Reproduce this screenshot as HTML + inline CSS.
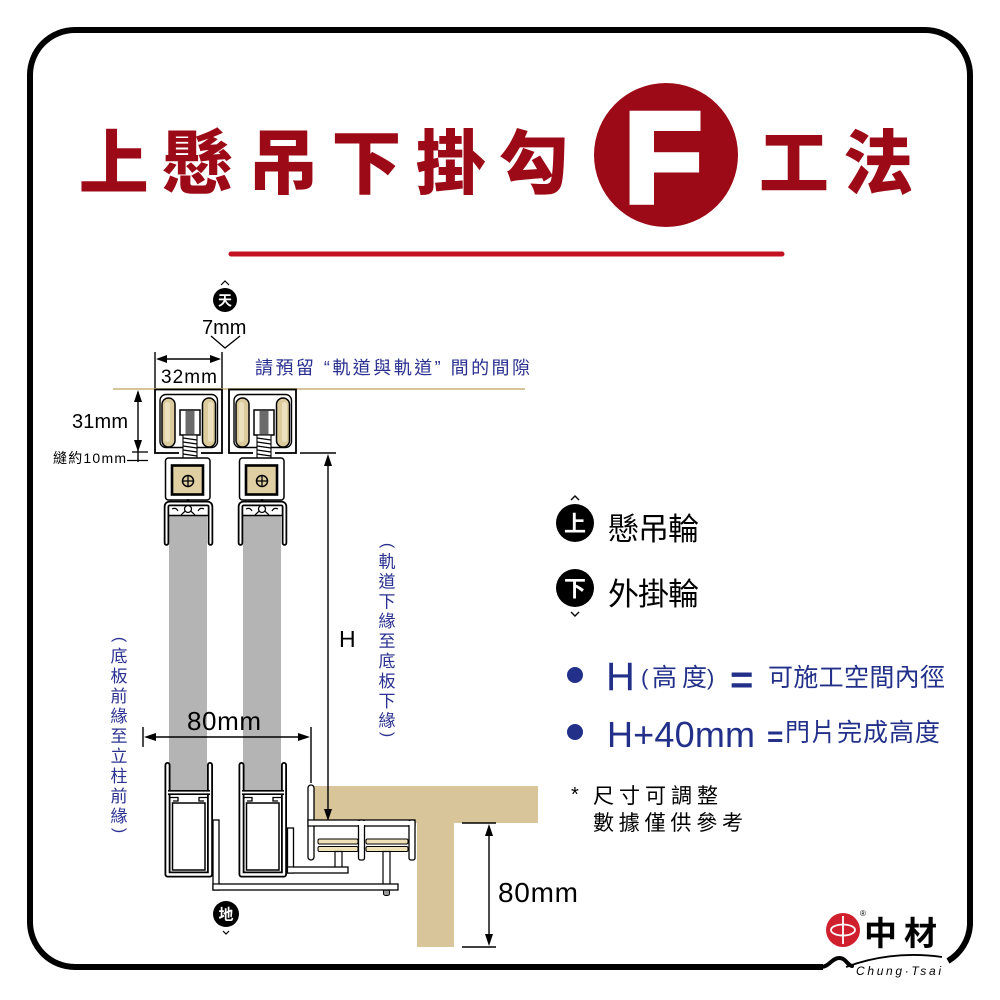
<!DOCTYPE html>
<html><head><meta charset="utf-8">
<style>
html,body{margin:0;padding:0;background:#fff;}
svg{display:block;}
text{font-family:"Liberation Sans","Noto Sans CJK TC",sans-serif;}
</style></head>
<body>
<svg width="1000" height="1000" viewBox="0 0 1000 1000" xmlns="http://www.w3.org/2000/svg" xmlns:xlink="http://www.w3.org/1999/xlink">
<rect width="1000" height="1000" fill="#fff"/>

<!-- frame -->
<path d="M823 967 L75 967 A45 45 0 0 1 30 922 L30 75 A45 45 0 0 1 75 30 L925 30 A45 45 0 0 1 970 75 L970 925 A45 45 0 0 1 948 961" fill="none" stroke="#000" stroke-width="6"/>
<path d="M821 967 C829 967 832 958 839 958 C846 958 847 965 852 966" fill="none" stroke="#000" stroke-width="4" stroke-linecap="round"/>
<path d="M846 967 Q892 950 942 957" fill="none" stroke="#000" stroke-width="1.8"/>

<!-- title -->
<g fill="#9d0a17" font-size="70" font-weight="900" text-anchor="middle">
<text x="113.7" y="188">上</text>
<text x="197.7" y="188">懸</text>
<text x="283.2" y="188">吊</text>
<text x="366.4" y="188">下</text>
<text x="450.7" y="188">掛</text>
<text x="533.8" y="188">勾</text>
<text x="793.9" y="188">工</text>
<text x="878.2" y="188">法</text>
</g>
<circle cx="666" cy="155" r="72" fill="#9d0a17"/>
<text x="624" y="202" font-family="Liberation Sans" font-size="128" font-weight="bold" fill="#fff" stroke="#fff" stroke-width="6" stroke-linejoin="miter">F</text>
<line x1="231" y1="254" x2="782" y2="254" stroke="#c41220" stroke-width="5" stroke-linecap="round"/>

<!-- 天 -->
<polyline points="221,285 225,281 229,285" fill="none" stroke="#000" stroke-width="1.2"/>
<circle cx="225" cy="300" r="12" fill="#000"/>
<text x="225" y="305.5" font-size="14" font-weight="bold" fill="#fff" text-anchor="middle">天</text>
<text x="202" y="334" font-size="20" fill="#000">7mm</text>
<polyline points="211,336 225,348 240,336" fill="none" stroke="#000" stroke-width="1.3"/>

<!-- 32mm -->
<line x1="155" y1="352" x2="155" y2="389" stroke="#000" stroke-width="1.4"/>
<line x1="222" y1="352" x2="222" y2="389" stroke="#000" stroke-width="1.4"/>
<line x1="158" y1="359" x2="219" y2="359" stroke="#000" stroke-width="1.4"/>
<polygon points="156,359 167,355 167,363" fill="#000"/>
<polygon points="221,359 210,355 210,363" fill="#000"/>
<text x="161" y="383" font-size="19" fill="#000" textLength="56">32mm</text>

<text x="255" y="374" font-size="18" fill="#2a3090" textLength="275" lengthAdjust="spacing">請預留 “軌道與軌道” 間的間隙</text>

<!-- ceiling line -->
<line x1="113" y1="389" x2="525" y2="389" stroke="#d6c49a" stroke-width="2"/>

<!-- 31mm -->
<line x1="138" y1="392" x2="138" y2="462" stroke="#000" stroke-width="1.4"/>
<polygon points="138,390 134,402 142,402" fill="#000"/>
<polygon points="138,452 134,440 142,440" fill="#000"/>
<line x1="132" y1="452" x2="148" y2="452" stroke="#000" stroke-width="1.3"/>
<line x1="127" y1="460.5" x2="148" y2="460.5" stroke="#000" stroke-width="1.3"/>
<text x="72" y="428" font-size="20" fill="#000" textLength="56">31mm</text>
<text x="53" y="463" font-size="14" fill="#000" textLength="73">縫約10mm</text>

<!-- column -->
<g id="col">
 <rect x="169" y="516" width="38" height="274" fill="#b4b4b4"/>
 <rect x="155" y="389.5" width="67" height="63.5" fill="#fff" stroke="#000" stroke-width="1.8"/>
 <rect x="160" y="394.5" width="57.5" height="53" rx="6" fill="#fff" stroke="#000" stroke-width="1.4"/>
 <rect x="162" y="398" width="13" height="49" rx="6.5" fill="#dccb9c" stroke="#000" stroke-width="1.5"/>
 <rect x="165" y="402" width="5" height="40" rx="2.5" fill="#ece0bf"/>
 <rect x="202.5" y="398" width="13" height="49" rx="6.5" fill="#dccb9c" stroke="#000" stroke-width="1.5"/>
 <rect x="208" y="402" width="5" height="40" rx="2.5" fill="#ece0bf"/>
 <rect x="180" y="410" width="20" height="25" fill="#fff" stroke="#000" stroke-width="1.5"/>
 <rect x="185.5" y="410.8" width="9" height="23.5" fill="#6b6b6b"/>
 <rect x="179" y="448.5" width="22" height="6" fill="#fff"/>
 <rect x="183" y="435" width="14" height="28" fill="#fff" stroke="#000" stroke-width="1.1"/>
 <path d="M183 438 L197 440 M183 442 L197 444 M183 446 L197 448 M183 450 L197 452 M183 454 L197 456 M183 458 L197 460" stroke="#000" stroke-width="1.2"/>
 <rect x="165.5" y="458" width="44.5" height="42" rx="3" fill="#fff" stroke="#000" stroke-width="1.5"/>
 <rect x="172" y="465.5" width="31" height="29" fill="#dfcfa2" stroke="#000" stroke-width="2.6"/>
 <circle cx="188" cy="481" r="5.5" fill="none" stroke="#000" stroke-width="1.5"/>
 <path d="M182.5 481H193.5M188 475.5V486.5" stroke="#000" stroke-width="1.3"/>
 <circle cx="188" cy="500.5" r="1.5" fill="#000"/>
 <path d="M166.5 543 V507 Q166.5 503.5 170 503.5 L207 503.5 Q210.5 503.5 210.5 507 V543" fill="none" stroke="#000" stroke-width="5.5" stroke-linecap="round"/>
 <path d="M166.5 543 V507 Q166.5 503.5 170 503.5 L207 503.5 Q210.5 503.5 210.5 507 V543" fill="none" stroke="#fff" stroke-width="2" stroke-linecap="round"/>
 <line x1="169" y1="515.5" x2="208" y2="515.5" stroke="#000" stroke-width="1.4"/>
 <circle cx="188" cy="509" r="3.5" fill="#fff" stroke="#000" stroke-width="1.3"/>
 <path d="M181 515 Q184 512 185.5 511 M195 515 Q192 512 190.5 511 M172 509 Q176 507 178 511 M204 509 Q200 507 198 511" fill="none" stroke="#000" stroke-width="1.2"/>
 <path d="M167.5 765 V874.5 H210 V765" fill="none" stroke="#000" stroke-width="6" stroke-linecap="round" stroke-linejoin="round"/>
 <path d="M167.5 765 V874.5 H210 V765" fill="none" stroke="#fff" stroke-width="2.4" stroke-linecap="round" stroke-linejoin="round"/>
 <line x1="168" y1="792.5" x2="210" y2="792.5" stroke="#000" stroke-width="5"/>
 <line x1="168" y1="792.5" x2="210" y2="792.5" stroke="#fff" stroke-width="1.8"/>
 <path d="M169 797.5 H178 V801 H173" fill="none" stroke="#000" stroke-width="1.3"/>
 <path d="M208 797.5 H199 V801 H204" fill="none" stroke="#000" stroke-width="1.3"/>
 <rect x="172.5" y="803" width="32.5" height="67" fill="none" stroke="#000" stroke-width="1.5"/>
</g>
<use xlink:href="#col" href="#col" transform="translate(74,0)"/>

<!-- brackets -->
<rect x="213" y="820" width="6" height="70" fill="#fff" stroke="#000" stroke-width="1.3"/>
<rect x="287.5" y="828" width="6" height="45" fill="#fff" stroke="#000" stroke-width="1.3"/>

<!-- T beam -->
<path d="M313 786 H538 V823 H454 V947 H417 V823 H313 Z" fill="#d8c69a"/>

<!-- wall & rail -->
<rect x="308" y="785" width="6" height="75" rx="3" fill="#fff" stroke="#000" stroke-width="1.3"/>
<rect x="308" y="820" width="107" height="6" fill="#fff" stroke="#000" stroke-width="1.3"/>
<rect x="358.5" y="820" width="6" height="40" rx="2" fill="#fff" stroke="#000" stroke-width="1.3"/>
<rect x="409" y="820" width="6" height="40" rx="2" fill="#fff" stroke="#000" stroke-width="1.3"/>
<rect x="308.8" y="820.8" width="4.4" height="4.4" fill="#fff"/>
<rect x="309" y="821" width="105" height="4" fill="#fff"/>
<rect x="359.3" y="821" width="4.4" height="6" fill="#fff"/>
<rect x="409.8" y="821" width="4.4" height="6" fill="#fff"/>
<rect x="318" y="839" width="40" height="5" rx="1.5" fill="#efe2b8" stroke="#000" stroke-width="1"/>
<rect x="318" y="846.5" width="40" height="5" rx="1.5" fill="#efe2b8" stroke="#000" stroke-width="1"/>
<rect x="366" y="839" width="42" height="5" rx="1.5" fill="#efe2b8" stroke="#000" stroke-width="1"/>
<rect x="366" y="846.5" width="42" height="5" rx="1.5" fill="#efe2b8" stroke="#000" stroke-width="1"/>
<rect x="335" y="851.5" width="7" height="16" fill="#fff" stroke="#000" stroke-width="1.2"/>
<rect x="383" y="851.5" width="7" height="33" fill="#fff" stroke="#000" stroke-width="1.2"/>
<rect x="383.5" y="889.5" width="6" height="6" rx="2" fill="#999" stroke="#000" stroke-width="1"/>

<rect x="287.5" y="867" width="60.5" height="6" fill="#fff" stroke="#000" stroke-width="1.3"/>
<rect x="288.3" y="867.7" width="4.4" height="4.6" fill="#fff"/>
<rect x="213" y="884" width="185" height="6" fill="#fff" stroke="#000" stroke-width="1.3"/>
<rect x="213.8" y="884.7" width="4.4" height="4.6" fill="#fff"/>

<!-- H dimension -->
<line x1="300" y1="453" x2="336" y2="453" stroke="#000" stroke-width="1.4"/>
<line x1="328" y1="460" x2="328" y2="812" stroke="#000" stroke-width="1.4"/>
<polygon points="328,454 324,466 332,466" fill="#000"/>
<polygon points="328,821 324,809 332,809" fill="#000"/>
<text x="339" y="647" font-size="23" fill="#000">H</text>

<g fill="#2a3090" font-size="17" text-anchor="middle">
<text transform="translate(382.8,545.5) rotate(90)" font-size="16">(</text>
<text x="387" y="567.5">軌</text>
<text x="387" y="587.4">道</text>
<text x="387" y="607.3">下</text>
<text x="387" y="627.2">緣</text>
<text x="387" y="647.1">至</text>
<text x="387" y="667">底</text>
<text x="387" y="686.9">板</text>
<text x="387" y="706.8">下</text>
<text x="387" y="726.7">緣</text>
<text transform="translate(382.8,734.5) rotate(90)" font-size="16">)</text>
</g>
<g fill="#2a3090" font-size="17" text-anchor="middle">
<text transform="translate(114.8,639.5) rotate(90)" font-size="16">(</text>
<text x="119" y="662">底</text>
<text x="119" y="682">板</text>
<text x="119" y="702">前</text>
<text x="119" y="722">緣</text>
<text x="119" y="742">至</text>
<text x="119" y="762">立</text>
<text x="119" y="782">柱</text>
<text x="119" y="802">前</text>
<text x="119" y="822">緣</text>
<text transform="translate(114.8,830.5) rotate(90)" font-size="16">)</text>
</g>

<!-- 80mm horizontal -->
<line x1="143" y1="727" x2="143" y2="747" stroke="#000" stroke-width="1.4"/>
<line x1="311" y1="727" x2="311" y2="783" stroke="#000" stroke-width="1.4"/>
<line x1="150" y1="737" x2="304" y2="737" stroke="#000" stroke-width="1.4"/>
<polygon points="144,737 156,733 156,741" fill="#000"/>
<polygon points="310,737 298,733 298,741" fill="#000"/>
<text x="187" y="730" font-size="26" fill="#000" textLength="74" lengthAdjust="spacing">80mm</text>

<!-- 80mm vertical -->
<line x1="462" y1="823" x2="496" y2="823" stroke="#000" stroke-width="1.4"/>
<line x1="462" y1="947" x2="496" y2="947" stroke="#000" stroke-width="1.4"/>
<line x1="489" y1="830" x2="489" y2="940" stroke="#000" stroke-width="1.4"/>
<polygon points="489,824 485,836 493,836" fill="#000"/>
<polygon points="489,946 485,934 493,934" fill="#000"/>
<text x="498" y="902" font-size="28" fill="#000" textLength="80">80mm</text>

<!-- 地 -->
<circle cx="226" cy="914" r="13" fill="#000"/>
<text x="226" y="919.7" font-size="15" font-weight="bold" fill="#fff" text-anchor="middle">地</text>
<polyline points="223,931 226,934 229,931" fill="none" stroke="#000" stroke-width="1.2"/>

<!-- legend -->
<polyline points="571,500 575,496 579,500" fill="none" stroke="#000" stroke-width="1.4"/>
<circle cx="575" cy="523" r="19" fill="#000"/>
<text x="575" y="531.4" font-size="22" font-weight="bold" fill="#fff" text-anchor="middle">上</text>
<text x="608" y="540" font-size="31" fill="#000" textLength="91">懸吊輪</text>

<circle cx="575" cy="588" r="19" fill="#000"/>
<text x="575" y="596.4" font-size="22" font-weight="bold" fill="#fff" text-anchor="middle">下</text>
<polyline points="571,612 575,616 579,612" fill="none" stroke="#000" stroke-width="1.4"/>
<text x="608" y="605" font-size="31" fill="#000" textLength="91">外掛輪</text>

<circle cx="575" cy="675" r="8" fill="#23308a"/>
<text x="606" y="690" font-size="40" fill="#23308a">H</text>
<text x="641" y="685" font-size="22" fill="#23308a">(</text>
<text x="664.5" y="686" font-size="25" fill="#23308a" text-anchor="middle">高</text>
<text x="694.5" y="686" font-size="25" fill="#23308a" text-anchor="middle">度</text>
<text x="707" y="685" font-size="22" fill="#23308a">)</text>
<text x="730" y="693" font-size="40" font-weight="bold" fill="#23308a">=</text>
<text x="768" y="686" font-size="25" fill="#23308a" textLength="177">可施工空間內徑</text>

<circle cx="575" cy="732" r="8" fill="#23308a"/>
<text x="607" y="747" font-size="36" fill="#23308a" textLength="148">H+40mm</text>
<text x="767" y="746" font-size="28" font-weight="bold" fill="#23308a">=</text>
<text x="785" y="741" font-size="25" fill="#23308a" textLength="155">門片完成高度</text>

<text x="571" y="801" font-size="20" fill="#000">*</text>
<text x="593" y="803" font-size="21" fill="#000" textLength="125">尺寸可調整</text>
<text x="593" y="830" font-size="21" fill="#000" textLength="150">數據僅供參考</text>

<!-- logo -->
<circle cx="843" cy="930" r="17" fill="#d0202e"/>
<ellipse cx="843" cy="930" rx="12" ry="5.5" fill="none" stroke="#fff" stroke-width="1.8"/>
<line x1="843" y1="916" x2="843" y2="944" stroke="#fff" stroke-width="1.8"/>
<text x="860" y="916" font-size="8" fill="#000">®</text>
<text x="864" y="945" font-size="33" font-weight="bold" fill="#000" textLength="73">中材</text>
<text x="856" y="975" font-size="12" font-style="italic" fill="#000" textLength="85">Chung·Tsai</text>
</svg>
</body></html>
